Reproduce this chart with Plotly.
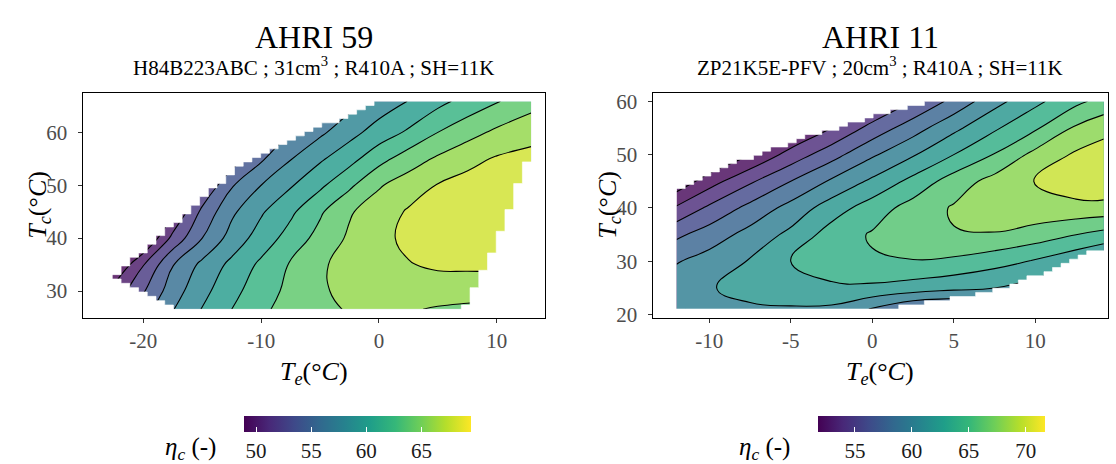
import numpy as np
import plotly.graph_objects as go
from plotly.colors import sample_colorscale

W, H = 1116, 464
FONT = "Liberation Serif"

# ---------------- data : AHRI 59 ----------------
te59 = [-22.63, -20.0, -17.5, -15.0, -12.5, -10.0, -7.5, -5.0, -2.5, 0.0, 2.5, 5.0, 7.5, 10.0, 12.92]
tc59 = [26.54, 30.0, 35.0, 40.0, 45.0, 50.0, 55.0, 60.0, 65.9]
eta59 = [
    [51.9, 55.2, 57.9, 60.1, 62.0, 63.65, 64.7, 65.4, 66.2, 66.55, 66.2, 65.8, 65.6, 65.5, 65.4],
    [50.5, 53.8, 57.1, 59.4, 61.4, 63.1, 64.5, 65.85, 66.3, 66.8, 67.0, 67.0, 66.8, 66.6, 66.4],
    [47.5, 51.9, 55.9, 58.5, 60.5, 62.4, 64.2, 65.8, 66.5, 67.2, 67.9, 68.3, 68.4, 68.5, 68.5],
    [44.0, 47.5, 52.6, 56.0, 58.8, 60.9, 62.8, 64.7, 66.3, 67.5, 68.4, 68.9, 69.2, 69.4, 69.5],
    [42.0, 46.0, 49.8, 54.5, 57.6, 59.75, 61.6, 63.7, 65.8, 67.0, 68.2, 68.8, 69.2, 69.4, 69.5],
    [43.0, 46.2, 49.2, 52.0, 55.8, 58.0, 59.8, 61.6, 63.6, 65.8, 67.0, 68.1, 68.7, 69.0, 69.2],
    [41.0, 44.0, 47.0, 50.0, 52.8, 55.7, 57.9, 59.7, 61.3, 63.3, 65.0, 66.3, 67.4, 68.2, 68.6],
    [41.5, 44.0, 46.5, 49.0, 51.5, 53.8, 56.0, 57.6, 59.3, 60.9, 62.3, 64.0, 65.25, 66.4, 67.3],
    [42.0, 44.0, 46.0, 48.0, 50.0, 52.0, 53.8, 55.5, 57.2, 58.8, 60.05, 61.4, 62.7, 63.85, 65.2],
]
env59_te = [-22.52, -16.43, 7.0, 7.45, 8.15, 8.9, 9.65, 10.35, 11.15, 11.85, 12.57, 13.5, 13.5, 0.48, -11.5]
env59_tc = [32.59, 26.0, 26.0, 28.1, 31.2, 34.2, 37.7, 41.5, 45.6, 50.3, 54.4, 60.0, 66.5, 66.5, 54.3]
cells59 = (48, 48)
crange59 = (48.9, 69.5)
levels59 = (50, 68, 2)
cbticks59 = [50, 55, 60, 65]

# ---------------- data : AHRI 11 ----------------
te11 = [-12.0, -10.0, -7.5, -5.0, -2.5, 0.0, 2.5, 5.0, 7.5, 10.0, 12.5, 14.2]
tc11 = [21.06, 25.0, 30.0, 35.0, 40.0, 45.0, 50.0, 55.0, 60.0]
eta11 = [
    [60.6, 61.1, 61.6, 61.75, 61.6, 59.85, 58.0, 57.5, 57.0, 56.5, 56.0, 55.5],
    [61.2, 61.8, 62.9, 63.4, 63.65, 63.6, 63.1, 62.5, 62.0, 61.0, 59.5, 58.5],
    [59.85, 60.85, 62.15, 64.0, 65.1, 65.8, 65.9, 65.6, 64.75, 63.8, 62.5, 61.5],
    [57.6, 58.95, 60.7, 62.5, 64.9, 66.2, 67.3, 67.9, 67.9, 67.1, 66.0, 65.3],
    [54.3, 56.4, 58.6, 60.7, 63.0, 65.0, 66.8, 68.2, 68.9, 69.4, 69.4, 69.3],
    [50.5, 53.1, 55.7, 58.0, 60.3, 62.4, 64.6, 66.95, 68.7, 70.05, 71.2, 71.6],
    [47.5, 49.5, 52.0, 54.8, 57.2, 59.7, 61.8, 64.0, 66.1, 68.6, 70.3, 71.0],
    [44.5, 46.5, 49.0, 51.5, 54.0, 56.7, 59.1, 61.5, 63.7, 65.7, 68.3, 69.3],
    [41.5, 43.5, 46.0, 48.5, 51.0, 53.5, 56.0, 58.6, 61.3, 63.5, 65.5, 66.7],
]
env11_te = [-12.5, 1.5, 1.6, 3.6, 7.3, 10.0, 13.6, 14.5, 14.5, 3.4, 2.94, 0.29, -4.5, -8.77, -12.5]
env11_tc = [20.5, 20.5, 21.4, 22.3, 24.3, 27.2, 31.9, 32.5, 60.5, 60.5, 59.6, 57.4, 52.8, 48.1, 42.9]
cells11 = (50, 50)
crange11 = (51.75, 71.7)
levels11 = (52, 70, 2)
cbticks11 = [55, 60, 65, 70]

titles = ["AHRI 59", "AHRI 11"]
subtitles = ["H84B223ABC ; 31cm<sup>3</sup> ; R410A ; SH=11K",
             "ZP21K5E-PFV ; 20cm<sup>3</sup> ; R410A ; SH=11K"]

# ---------------- layout geometry (pixels) ----------------
panels = [
    dict(x0=82.7, x1=545.0, y0=92.7, y1=318.0, xr=[-25.15, 14.1], yr=[24.9, 67.5],
         xt=[-20, -10, 0, 10], yt=[30, 40, 50, 60], cb=(244, 227)),
    dict(x0=652.7, x1=1108.0, y0=92.7, y1=318.0, xr=[-13.47, 14.46], yr=[19.38, 61.61],
         xt=[-10, -5, 0, 5, 10], yt=[20, 30, 40, 50, 60], cb=(818, 227)),
]


def px(x):
    return x / W


def py(y):
    return 1 - y / H


def lab(v):
    return str(v).replace("−", "-")


def rgb_of(c):
    vals = c[c.find("(") + 1:c.find(")")].split(",")
    return [float(v) for v in vals[:3]]


def band_scale(lv, crange, alpha=0.8):
    start, end, size = lv
    cmin, cmax = crange
    nc = int(np.floor((end - start) / size + 1e-9)) + 1
    stops = []
    for j in range(nc + 1):
        low = cmin if j == 0 else start + (j - 1) * size
        t = min(max((low - cmin) / (cmax - cmin), 0.0), 1.0)
        r, g, b = rgb_of(sample_colorscale("Viridis", [t])[0])
        r, g, b = [alpha * v + (1 - alpha) * 255 for v in (r, g, b)]
        stops.append([j / nc, f"rgb({r:.0f},{g:.0f},{b:.0f})"])
    return stops


def inside_poly(X, Y, vx, vy):
    n = len(vx)
    inside = np.zeros(X.shape, dtype=bool)
    j = n - 1
    for i in range(n):
        xi, yi, xj, yj = vx[i], vy[i], vx[j], vy[j]
        cond = ((yi > Y) != (yj > Y)) & (X < (xj - xi) * (Y - yi) / (yj - yi + 1e-12) + xi)
        inside ^= cond
        j = i
    return inside


def mask_polys(te, tc, cells, vx, vy, ylo, yhi, ext=1.0):
    xe = np.linspace(te[0], te[-1], cells[0] + 1)
    ye = np.linspace(tc[0], tc[-1], cells[1] + 1)
    xc = 0.5 * (xe[:-1] + xe[1:])
    yc = 0.5 * (ye[:-1] + ye[1:])
    X, Y = np.meshgrid(xc, yc)
    ins = inside_poly(X, Y, vx, vy)
    tops, bots = [], []
    for i in range(len(xc)):
        rows = np.where(ins[:, i])[0]
        if len(rows):
            tops.append(ye[rows.max() + 1])
            bots.append(ye[rows.min()])
        else:
            tops.append(ye[0])
            bots.append(ye[0])
    xs = list(xe)
    xs[0] -= ext
    xs[-1] += ext
    ux, uy, lx, ly = [xs[0]], [yhi], [xs[0]], [ylo]
    for i in range(len(xc)):
        ux += [xs[i], xs[i + 1]]
        uy += [tops[i], tops[i]]
        lx += [xs[i], xs[i + 1]]
        ly += [bots[i], bots[i]]
    ux += [xs[-1], xs[0]]
    uy += [yhi, yhi]
    lx += [xs[-1], xs[0]]
    ly += [ylo, ylo]
    return (ux, uy), (lx, ly)


fig = go.Figure()
datasets = [
    (te59, tc59, eta59, env59_te, env59_tc, cells59, crange59, levels59, cbticks59),
    (te11, tc11, eta11, env11_te, env11_tc, cells11, crange11, levels11, cbticks11),
]

for k, (te, tc, eta, ex, ey, cells, crange, lv, cbt) in enumerate(datasets):
    xa = "x" if k == 0 else "x2"
    ya = "y" if k == 0 else "y2"
    p = panels[k]
    fig.add_trace(go.Contour(
        x=te, y=tc, z=eta, xaxis=xa, yaxis=ya,
        autocontour=False,
        contours=dict(start=lv[0], end=lv[1], size=lv[2], coloring="fill"),
        colorscale=band_scale(lv, crange),
        line=dict(color="black", width=1.1, smoothing=1.3),
        showscale=False, hoverinfo="skip"))
    (ux, uy), (lx, ly) = mask_polys(te, tc, cells, ex, ey, 0, 100)
    for (mx, my) in ((ux, uy), (lx, ly)):
        fig.add_trace(go.Scatter(x=mx, y=my, xaxis=xa, yaxis=ya, mode="lines",
                                 fill="toself", fillcolor="white",
                                 line=dict(width=0.6, color="white"),
                                 hoverinfo="skip", showlegend=False))
    cbx, cblen = p["cb"]
    fig.add_trace(go.Scatter(
        x=[None], y=[None], xaxis=xa, yaxis=ya, mode="markers", showlegend=False,
        hoverinfo="skip",
        marker=dict(color=[crange[0]], cmin=crange[0], cmax=crange[1],
                    colorscale="Viridis", showscale=True,
                    colorbar=dict(orientation="h", xref="container", yref="container",
                                  x=px(cbx), xanchor="left", y=py(416), yanchor="top",
                                  len=cblen, lenmode="pixels", thickness=16,
                                  thicknessmode="pixels", outlinewidth=0, xpad=0, ypad=0,
                                  tickvals=cbt, ticks="inside", ticklen=5,
                                  tickcolor="white", tickwidth=1,
                                  tickfont=dict(family=FONT, size=21, color="#1a1a1a")))))

axis_common = dict(showgrid=False, zeroline=False, showline=True, linecolor="black",
                   linewidth=1.3, mirror=True, ticks="outside", ticklen=4,
                   tickcolor="#333333", tickwidth=1,
                   tickfont=dict(family=FONT, size=21, color="#4d4d4d"))
layout = dict(width=W, height=H, margin=dict(l=0, r=0, t=0, b=0, autoexpand=False),
              paper_bgcolor="white", plot_bgcolor="white", showlegend=False,
              font=dict(family=FONT, color="black"))
for k, p in enumerate(panels):
    sx = "" if k == 0 else "2"
    layout["xaxis" + sx] = dict(axis_common, domain=[px(p["x0"]), px(p["x1"])],
                                range=p["xr"], tickvals=p["xt"],
                                ticktext=[lab(v) for v in p["xt"]], anchor="y" + sx)
    layout["yaxis" + sx] = dict(axis_common, domain=[py(p["y1"]), py(p["y0"])],
                                range=p["yr"], tickvals=p["yt"],
                                ticktext=[lab(v) for v in p["yt"]], anchor="x" + sx,
                                ticklabelstandoff=6)
fig.update_layout(**layout)

ann = []
for k, p in enumerate(panels):
    cx = 0.5 * (p["x0"] + p["x1"])
    ann.append(dict(text=titles[k], x=px(cx), y=py(37), font=dict(family=FONT, size=32, color="black")))
    ann.append(dict(text=subtitles[k], x=px(cx), y=py(67), font=dict(family=FONT, size=21, color="black")))
    ann.append(dict(text="<i>T</i><sub><i>e</i></sub>(°<i>C</i>)", x=px(cx), y=py(373),
                    font=dict(family=FONT, size=26, color="black")))
    ann.append(dict(text="<i>T</i><sub><i>c</i></sub>(°<i>C</i>)", x=px(p["x0"] - 44), y=py(205),
                    textangle=-90, font=dict(family=FONT, size=26, color="black")))
    ann.append(dict(text="<i>η</i><sub><i>c</i></sub> (-)", x=px(p["cb"][0] - 54), y=py(448),
                    font=dict(family=FONT, size=25, color="black")))
for a in ann:
    a.update(xref="paper", yref="paper", showarrow=False, xanchor="center", yanchor="middle")
fig.update_layout(annotations=ann)

fig.write_html("out.html")
